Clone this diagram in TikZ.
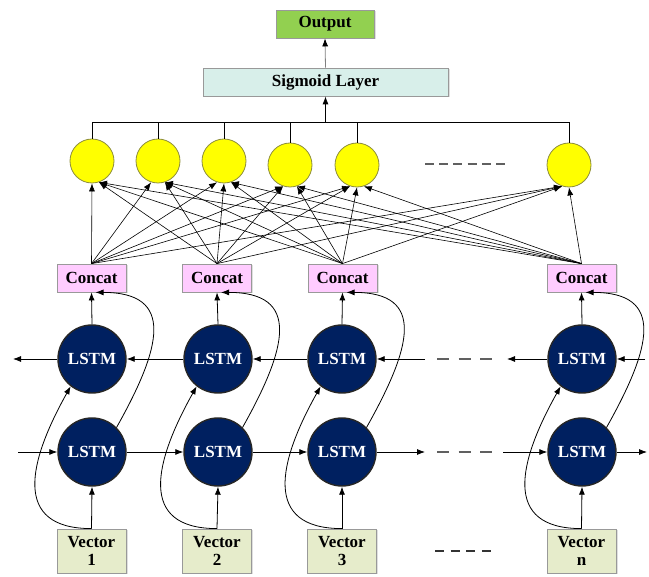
\documentclass[tikz,border=0pt]{standalone}
\usepackage{fontspec}
\setmainfont{Liberation Serif}
\usetikzlibrary{arrows.meta,shadows}
\definecolor{outgreen}{HTML}{92D050}
\definecolor{sigfill}{HTML}{D8EFEA}
\definecolor{concatfill}{HTML}{FFCCFF}
\definecolor{vecfill}{HTML}{E6ECCB}
\definecolor{yel}{HTML}{FFFF00}
\definecolor{yelborder}{HTML}{8C8C3C}
\definecolor{navy}{HTML}{002060}
\definecolor{dashgray}{HTML}{606060}
\tikzset{
  txt/.style={font=\fontsize{17}{18.5}\selectfont\bfseries},
  boxbase/.style={draw=gray!80, line width=0.8pt, inner sep=0pt, txt,
    drop shadow={shadow xshift=1.5pt, shadow yshift=-1.5pt, opacity=0.25}},
  outbox/.style={boxbase, fill=outgreen, minimum width=98pt, minimum height=28pt},
  sigbox/.style={boxbase, fill=sigfill, minimum width=245pt, minimum height=28pt},
  concatbox/.style={boxbase, fill=concatfill, minimum width=69pt, minimum height=28pt},
  vecbox/.style={boxbase, fill=vecfill, minimum width=69pt, minimum height=44pt, align=center},
  neuron/.style={circle, draw=yelborder, fill=yel, line width=0.8pt, minimum size=44pt, inner sep=0pt},
  lstm/.style={circle, draw=black!85, fill=navy, line width=1.4pt, minimum size=68pt, inner sep=0pt,
    txt, text=white},
  arr/.style={-{Latex[length=8pt,width=6pt]}, line width=0.8pt},
  fan/.style={-{Latex[length=8pt,width=6pt]}, line width=0.6pt},
  conn/.style={line width=0.8pt},
  dashrow/.style={draw=dashgray, line width=2pt, dash pattern=on 12pt off 9.5pt},
}
\begin{document}
\begin{tikzpicture}[x=1pt,y=-1pt]
\useasboundingbox (0,0) rectangle (649,577);

% top
\node[outbox] (out) at (325,24) {Output};
\node[sigbox] (sig) at (325.5,82) {Sigmoid Layer};

% neurons
\node[neuron] (y1) at (92,161) {};
\node[neuron] (y2) at (158,161) {};
\node[neuron] (y3) at (224,161) {};
\node[neuron] (y4) at (290,165) {};
\node[neuron] (y5) at (357,165) {};
\node[neuron] (y6) at (569,165) {};

% concat
\node[concatbox] (c1) at (91.5,278) {Concat};
\node[concatbox] (c2) at (217,278) {Concat};
\node[concatbox] (c3) at (342.5,278) {Concat};
\node[concatbox] (c4) at (581.5,278) {Concat};

% LSTM
\node[lstm] (u1) at (92,359) {LSTM};
\node[lstm] (u2) at (218,359) {LSTM};
\node[lstm] (u3) at (342,359) {LSTM};
\node[lstm] (u4) at (582,359) {LSTM};
\node[lstm] (l1) at (92,452) {LSTM};
\node[lstm] (l2) at (218,452) {LSTM};
\node[lstm] (l3) at (342,452) {LSTM};
\node[lstm] (l4) at (582,452) {LSTM};

% vectors
\node[vecbox] (v1) at (91.5,551) {Vector\\1};
\node[vecbox] (v2) at (217,551) {Vector\\2};
\node[vecbox] (v3) at (342,551) {Vector\\3};
\node[vecbox] (v4) at (581.5,551) {Vector\\n};

% bus to sigmoid
\coordinate (bus) at (0,122);
\foreach \i in {1,...,6} {\draw[conn] (y\i.north) -- (y\i.north |- bus);}
\draw[conn] (y1.north |- bus) -- (y6.north |- bus);
\draw[arr] (sig.south |- bus) -- (sig.south);
\draw[conn, draw=gray, -{Latex[length=8pt,width=6pt,color=black]}] (sig.north) -- (out.south);

% fan connections
\foreach \c/\cx in {1/91.5,2/217,3/342.5,4/581.5} {
  \foreach \y/\yx in {1/92,2/158,3/224,4/290,5/357,6/569} {
    \pgfmathtruncatemacro\ang{abs(\yx-\cx)<20 ? 270 : (\yx>\cx ? 252 : 288)}
    \draw[fan] (c\c.north) -- (y\y.\ang);
  }
}

% neuron ellipsis
\draw[draw=dashgray, line width=2pt, dash pattern=on 9pt off 5.2pt] (425,164) -- (505,164);

% vertical arrows and curves per column
\foreach \i in {1,...,4} {
  \draw[arr] (u\i.north) -- (c\i.south);
  \draw[arr] (v\i.north) -- (l\i.south);
  \draw[arr] (l\i.45) .. controls +(45,-80) and +(80,0) .. ([xshift=4pt]c\i.south);
  \draw[arr] (v\i.north) .. controls +(-80,0) and +(-42,75) .. (u\i.232);
}

% upper row (leftward)
\coordinate (ul) at (13,359);
\coordinate (ua) at (425,359);
\coordinate (ub) at (507,359);
\coordinate (ur) at (645,359);
\draw[arr] (u1.west) -- (ul);
\draw[arr] (u2.west) -- (u1.east);
\draw[arr] (u3.west) -- (u2.east);
\draw[arr] (ua) -- (u3.east);
\draw[arr] (u4.west) -- (ub);
\draw[arr] (ur) -- (u4.east);
\draw[dashrow] (437,359) -- (492,359);

% lower row (rightward)
\coordinate (ll) at (18,452);
\coordinate (la) at (425,452);
\coordinate (lb) at (503,452);
\coordinate (lr) at (647,452);
\draw[arr] (ll) -- (l1.west);
\draw[arr] (l1.east) -- (l2.west);
\draw[arr] (l2.east) -- (l3.west);
\draw[arr] (l3.east) -- (la);
\draw[arr] (lb) -- (l4.west);
\draw[arr] (l4.east) -- (lr);
\draw[dashrow] (437,452) -- (492,452);

% vector ellipsis
\draw[draw=black!80, line width=1.3pt, dash pattern=on 9pt off 6.6pt] (435,551) -- (491,551);
\end{tikzpicture}
\end{document}
